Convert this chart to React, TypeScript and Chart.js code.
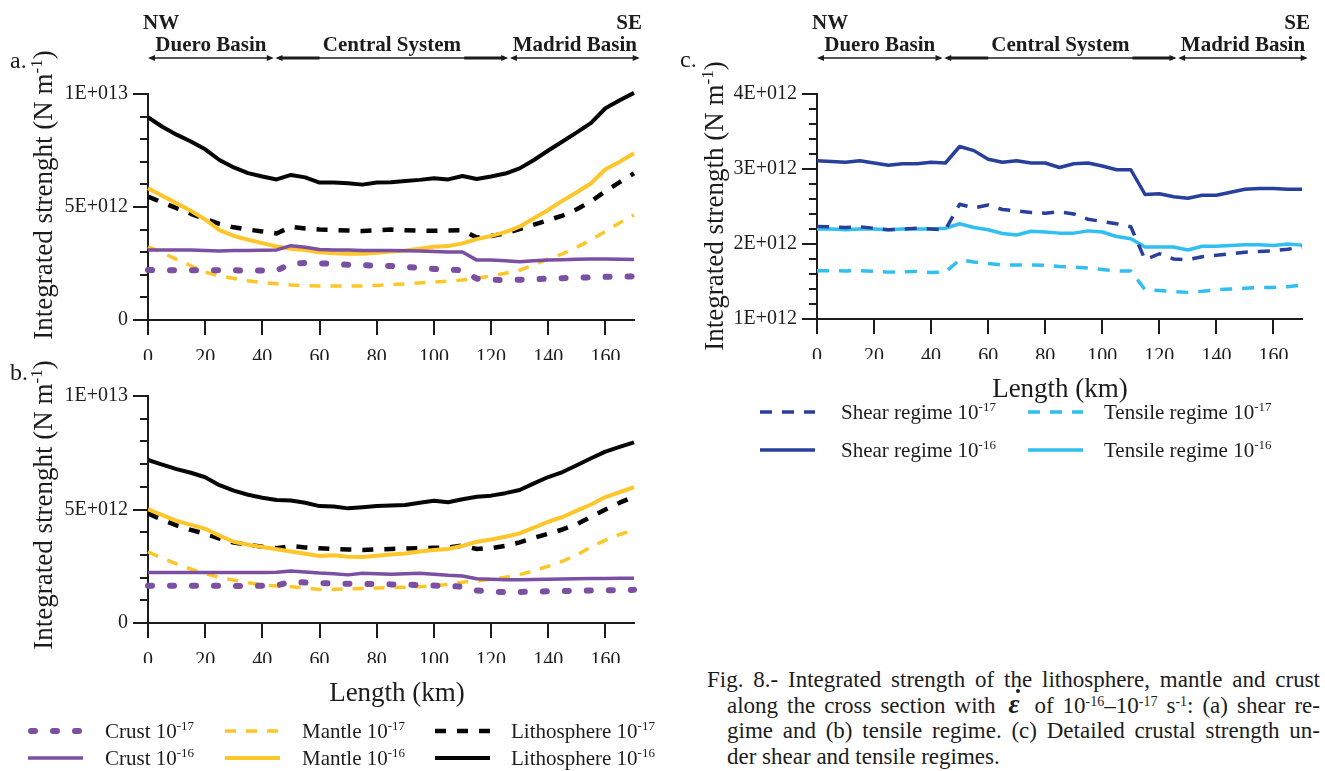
import React, { useEffect, useRef } from "react";
import { Chart, registerables } from "chart.js";

Chart.register(...registerables);

const SERIF = "'Liberation Serif', 'Times New Roman', Times, serif";
const INK = "#1c1c1c";
const PURPLE = "#7b4fa1";
const GOLD = "#ffc629";
const BLACK = "#050505";
const SHEAR = "#283f9b";
const TENSILE = "#30bff0";

Chart.defaults.font.family = SERIF;

// Distance along the NW–SE cross section (km)
const km = [
  0, 5, 10, 15, 20, 25, 30, 35, 40, 45, 50, 55, 60, 65, 70, 75, 80, 85, 90, 95,
  100, 105, 110, 115, 120, 125, 130, 135, 140, 145, 150, 155, 160, 165, 170,
];

// (a) shear regime, integrated strength in units of 1E+012 N m-1
const shearCrust17 = [
  2.21, 2.2, 2.2, 2.2, 2.2, 2.2, 2.2, 2.19, 2.19, 2.18, 2.51, 2.52, 2.51, 2.48, 2.44, 2.42, 2.41, 2.39, 2.35, 2.3,
  2.26, 2.23, 2.2, 1.83, 1.78, 1.77, 1.78, 1.8, 1.83, 1.85, 1.87, 1.89, 1.91, 1.92, 1.93,
];
const shearCrust16 = [
  3.1, 3.1, 3.1, 3.1, 3.08, 3.05, 3.07, 3.08, 3.09, 3.1, 3.29, 3.22, 3.12, 3.1, 3.1, 3.08, 3.08, 3.07, 3.06, 3.05,
  3.03, 3.01, 3.01, 2.65, 2.65, 2.62, 2.58, 2.62, 2.65, 2.67, 2.69, 2.7, 2.7, 2.69, 2.68,
];
const shearMantle17 = [
  3.24, 2.98, 2.68, 2.4, 2.12, 1.95, 1.84, 1.74, 1.66, 1.6, 1.55, 1.52, 1.5, 1.5, 1.5, 1.5, 1.53, 1.57, 1.6, 1.64,
  1.68, 1.72, 1.77, 1.85, 1.95, 2.07, 2.2, 2.45, 2.7, 2.93, 3.22, 3.55, 3.92, 4.3, 4.65,
];
const shearMantle16 = [
  5.83, 5.5, 5.16, 4.83, 4.45, 3.98, 3.72, 3.55, 3.4, 3.25, 3.15, 3.1, 3.0, 2.95, 2.93, 2.93, 2.98, 3.03, 3.08, 3.15,
  3.24, 3.27, 3.39, 3.58, 3.72, 3.89, 4.13, 4.5, 4.87, 5.28, 5.65, 6.05, 6.67, 7.0, 7.38,
];
const shearLitho17 = [
  5.46, 5.2, 4.95, 4.7, 4.47, 4.25, 4.1, 4.0, 3.92, 3.83, 4.12, 4.05, 4.0, 3.98, 3.96, 3.94, 3.97, 4.0, 3.97, 3.95,
  3.95, 3.96, 3.97, 3.65, 3.72, 3.83, 4.02, 4.22, 4.42, 4.62, 4.9, 5.25, 5.7, 6.1, 6.49,
];
const shearLitho16 = [
  8.97, 8.55, 8.2, 7.9, 7.55, 7.08, 6.75, 6.5, 6.35, 6.22, 6.42, 6.31, 6.08, 6.08, 6.05, 5.99, 6.08, 6.1, 6.15, 6.2,
  6.27, 6.22, 6.37, 6.24, 6.35, 6.48, 6.71, 7.08, 7.5, 7.9, 8.3, 8.72, 9.37, 9.72, 10.05,
];

// (b) tensile regime, integrated strength in units of 1E+012 N m-1
const tensileCrust17 = [
  1.64, 1.64, 1.64, 1.64, 1.64, 1.64, 1.63, 1.63, 1.64, 1.65, 1.82, 1.78, 1.76, 1.74, 1.73, 1.72, 1.72, 1.7, 1.69, 1.67,
  1.65, 1.63, 1.6, 1.43, 1.38, 1.36, 1.37, 1.38, 1.4, 1.41, 1.42, 1.43, 1.44, 1.45, 1.46,
];
const tensileCrust16 = [
  2.22, 2.22, 2.22, 2.22, 2.22, 2.22, 2.23, 2.23, 2.23, 2.24, 2.29, 2.25, 2.2, 2.17, 2.12, 2.19, 2.17, 2.15, 2.17, 2.19,
  2.15, 2.1, 2.07, 1.95, 1.93, 1.91, 1.9, 1.92, 1.93, 1.94, 1.95, 1.96, 1.96, 1.97, 1.97,
];
const tensileMantle17 = [
  3.14, 2.85, 2.6, 2.38, 2.17, 2.02, 1.89, 1.77, 1.68, 1.63, 1.6, 1.54, 1.48, 1.49, 1.5, 1.52, 1.54, 1.56, 1.58, 1.6,
  1.64, 1.7, 1.8, 1.86, 1.92, 2.02, 2.13, 2.3, 2.5, 2.72, 3.0, 3.36, 3.65, 3.9, 4.1,
];
const tensileMantle16 = [
  5.01, 4.75, 4.5, 4.32, 4.15, 3.85, 3.58, 3.45, 3.35, 3.25, 3.15, 3.05, 2.95, 2.98, 2.92, 2.91, 2.96, 3.02, 3.06, 3.15,
  3.22, 3.26, 3.4, 3.58, 3.68, 3.8, 3.95, 4.2, 4.46, 4.67, 4.95, 5.22, 5.55, 5.77, 5.98,
];
const tensileLitho17 = [
  4.83, 4.55, 4.3, 4.1, 3.93, 3.72, 3.54, 3.45, 3.36, 3.29, 3.39, 3.33, 3.29, 3.26, 3.24, 3.22, 3.24, 3.26, 3.28, 3.3,
  3.31, 3.33, 3.41, 3.26, 3.3, 3.4, 3.55, 3.75, 3.93, 4.12, 4.36, 4.68, 5.0, 5.3, 5.56,
];
const tensileLitho16 = [
  7.18, 6.98, 6.78, 6.62, 6.42, 6.07, 5.83, 5.65, 5.52, 5.42, 5.4, 5.3, 5.15, 5.13, 5.05, 5.1, 5.15, 5.18, 5.2, 5.3,
  5.39, 5.32, 5.45, 5.56, 5.61, 5.72, 5.86, 6.15, 6.43, 6.65, 6.95, 7.26, 7.55, 7.76, 7.96,
];

// (c) crustal strength, units of 1E+012 N m-1
const crustShear17 = [
  2.235, 2.23, 2.22, 2.23, 2.21, 2.19, 2.2, 2.21, 2.2, 2.19, 2.53, 2.48, 2.52, 2.46, 2.44, 2.42, 2.41, 2.43, 2.4, 2.33,
  2.3, 2.27, 2.23, 1.79, 1.87, 1.8, 1.79, 1.83, 1.85, 1.87, 1.89, 1.9, 1.91, 1.93, 1.96,
];
const crustShear16 = [
  3.11, 3.1, 3.09, 3.11, 3.08, 3.05, 3.07, 3.07, 3.09, 3.08, 3.3, 3.245, 3.13, 3.09, 3.11, 3.08, 3.08, 3.02, 3.07, 3.08,
  3.04, 2.99, 2.99, 2.66, 2.67, 2.63, 2.61, 2.65, 2.65, 2.69, 2.73, 2.74, 2.74, 2.73, 2.73,
];
const crustTensile17 = [
  1.645, 1.645, 1.64, 1.645, 1.635, 1.625, 1.63, 1.635, 1.62, 1.625, 1.79, 1.76, 1.74, 1.72, 1.72, 1.72, 1.715, 1.7, 1.69, 1.68,
  1.66, 1.64, 1.64, 1.39, 1.38, 1.365, 1.355, 1.37, 1.39, 1.4, 1.41, 1.42, 1.42, 1.43, 1.455,
];
const crustTensile16 = [
  2.2, 2.2, 2.19, 2.2, 2.2, 2.19, 2.2, 2.2, 2.2, 2.21, 2.27, 2.22, 2.19, 2.14, 2.12, 2.17, 2.16, 2.145, 2.145, 2.175,
  2.16, 2.1, 2.07, 1.96, 1.96, 1.96, 1.92, 1.97, 1.97, 1.98, 1.99, 1.99, 1.98, 2.0, 1.985,
];

// Geological domains along the section (km)
const regionNames = ["Duero Basin", "Central System", "Madrid Basin"];
const regionStart = [0, 44.6, 126.6];
const regionEnd = [44, 126, 172];

const xMin = 0;
const xMax = 170;
const xStep = 20;

type LineStyle = { color: string; width: number; dash: number[]; cap: CanvasLineCap };

const styleCrust17: LineStyle = { color: PURPLE, width: 6, dash: [4, 18], cap: "round" };
const styleCrust16: LineStyle = { color: PURPLE, width: 3.5, dash: [], cap: "butt" };
const styleMantle17: LineStyle = { color: GOLD, width: 3.5, dash: [11, 10], cap: "butt" };
const styleMantle16: LineStyle = { color: GOLD, width: 4, dash: [], cap: "butt" };
const styleLitho17: LineStyle = { color: BLACK, width: 4.5, dash: [11, 11], cap: "butt" };
const styleLitho16: LineStyle = { color: BLACK, width: 4, dash: [], cap: "butt" };
const styleShear17: LineStyle = { color: SHEAR, width: 3.5, dash: [12, 10], cap: "butt" };
const styleShear16: LineStyle = { color: SHEAR, width: 3.5, dash: [], cap: "butt" };
const styleTensile17: LineStyle = { color: TENSILE, width: 3.5, dash: [12, 10], cap: "butt" };
const styleTensile16: LineStyle = { color: TENSILE, width: 3.5, dash: [], cap: "butt" };

type RichPart = { t: string; sup?: boolean };

function drawRich(
  ctx: CanvasRenderingContext2D,
  parts: RichPart[],
  x: number,
  y: number,
  size: number,
  align: "left" | "center" | "right",
  weight = "normal",
  supSize = Math.round(size * 0.62)
) {
  const main = `${weight} ${size}px ${SERIF}`;
  const small = `${weight} ${supSize}px ${SERIF}`;
  const widths = parts.map((p) => {
    ctx.font = p.sup ? small : main;
    return ctx.measureText(p.t).width;
  });
  const total = widths.reduce((a, b) => a + b, 0);
  let cx = align === "left" ? x : align === "center" ? x - total / 2 : x - total;
  ctx.textAlign = "left";
  ctx.textBaseline = "alphabetic";
  parts.forEach((p, i) => {
    ctx.font = p.sup ? small : main;
    ctx.fillText(p.t, cx, p.sup ? y - size * 0.38 : y);
    cx += widths[i];
  });
}

function strokeSample(ctx: CanvasRenderingContext2D, st: LineStyle, x: number, y: number, len: number) {
  ctx.save();
  ctx.strokeStyle = st.color;
  ctx.lineWidth = st.width;
  ctx.lineCap = st.cap;
  ctx.setLineDash(st.dash);
  const inset = st.cap === "round" ? st.width / 2 : 0;
  ctx.beginPath();
  ctx.moveTo(x + inset, y);
  ctx.lineTo(x + len - inset, y);
  ctx.stroke();
  ctx.restore();
}

function drawArrow(ctx: CanvasRenderingContext2D, a: number, b: number, y: number, heavyEnds: number) {
  ctx.save();
  ctx.strokeStyle = INK;
  ctx.fillStyle = INK;
  ctx.lineWidth = 1.6;
  ctx.beginPath();
  ctx.moveTo(a + 2, y);
  ctx.lineTo(b - 2, y);
  ctx.stroke();
  if (heavyEnds > 0) {
    ctx.lineWidth = 3;
    ctx.beginPath();
    ctx.moveTo(a + 4, y);
    ctx.lineTo(a + heavyEnds, y);
    ctx.moveTo(b - heavyEnds, y);
    ctx.lineTo(b - 4, y);
    ctx.stroke();
  }
  ctx.beginPath();
  ctx.moveTo(a, y);
  ctx.lineTo(a + 7, y - 3);
  ctx.lineTo(a + 7, y + 3);
  ctx.closePath();
  ctx.moveTo(b, y);
  ctx.lineTo(b - 7, y - 3);
  ctx.lineTo(b - 7, y + 3);
  ctx.closePath();
  ctx.fill();
  ctx.restore();
}

type LegendItem = { style: LineStyle; base: string; exp: string; sx: number; tx: number };
type LegendRow = { y: number; items: LegendItem[] };

interface DecorOptions {
  panel: { text: string; x: number; y: number };
  yTitle: { parts: RichPart[]; x: number; y: number };
  xTitle?: { text: string; x: number; y: number };
  header?: { nwY: number; nameY: number; arrowY: number };
  legend?: { rows: LegendRow[]; sampleLen: number };
}

function makeDecor(o: DecorOptions) {
  return {
    id: "decor",
    afterDraw(chart: any) {
      const ctx: CanvasRenderingContext2D = chart.ctx;
      const area = chart.chartArea;
      const xs = chart.scales.x;
      const ys = chart.scales.y;
      ctx.save();

      // tick marks: long for labelled values, short for minor steps
      ctx.strokeStyle = INK;
      ctx.lineWidth = 2;
      ctx.setLineDash([]);
      ctx.beginPath();
      xs.ticks.forEach((t: any) => {
        const px = Math.round(xs.getPixelForValue(t.value));
        ctx.moveTo(px, area.bottom);
        ctx.lineTo(px, area.bottom + 15);
      });
      ys.ticks.forEach((t: any) => {
        const py = Math.round(ys.getPixelForValue(t.value));
        const len = t.label ? 15 : 8;
        ctx.moveTo(area.left - len, py);
        ctx.lineTo(area.left, py);
      });
      ctx.stroke();

      ctx.fillStyle = INK;

      // panel letter
      ctx.font = `24px ${SERIF}`;
      ctx.textAlign = "left";
      ctx.textBaseline = "alphabetic";
      ctx.fillText(o.panel.text, o.panel.x, o.panel.y);

      // vertical axis title
      ctx.save();
      ctx.translate(o.yTitle.x, o.yTitle.y);
      ctx.rotate(-Math.PI / 2);
      drawRich(ctx, o.yTitle.parts, 0, 0, 27, "center", "normal", 17);
      ctx.restore();

      if (o.xTitle) {
        ctx.font = `27px ${SERIF}`;
        ctx.textAlign = "center";
        ctx.fillText(o.xTitle.text, o.xTitle.x, o.xTitle.y);
      }

      if (o.header) {
        const h = o.header;
        ctx.font = `bold 21px ${SERIF}`;
        ctx.textAlign = "left";
        ctx.fillText("NW", xs.getPixelForValue(xMin) - 5, h.nwY);
        ctx.textAlign = "right";
        ctx.fillText("SE", xs.getPixelForValue(xMax) + 8, h.nwY);
        regionNames.forEach((name, i) => {
          const a = xs.getPixelForValue(regionStart[i]);
          const b = xs.getPixelForValue(regionEnd[i]);
          ctx.font = `bold 21px ${SERIF}`;
          ctx.textAlign = "center";
          ctx.fillText(name, (a + b) / 2, h.nameY);
          drawArrow(ctx, a, b, h.arrowY, i === 1 ? 44 : 0);
        });
      }

      if (o.legend) {
        const lg = o.legend;
        lg.rows.forEach((row) => {
          row.items.forEach((it) => {
            strokeSample(ctx, it.style, it.sx, row.y, lg.sampleLen);
            ctx.fillStyle = INK;
            drawRich(ctx, [{ t: it.base + " 10" }, { t: it.exp, sup: true }], it.tx, row.y + 7, 21, "left", "normal", 13);
          });
        });
      }

      ctx.restore();
    },
  };
}

function series(label: string, values: number[], st: LineStyle) {
  return {
    label,
    data: values.map((v, i) => ({ x: km[i], y: v })),
    borderColor: st.color,
    backgroundColor: st.color,
    borderWidth: st.width,
    borderDash: st.dash,
    borderCapStyle: st.cap,
    borderJoinStyle: "round" as CanvasLineJoin,
    pointRadius: 0,
    tension: 0,
    fill: false,
    clip: false as const,
  };
}

const Y_AXIS_WIDTH = 100;

function xScale() {
  return {
    type: "linear" as const,
    min: xMin,
    max: xMax,
    afterFit: (s: any) => {
      s.height = 40;
    },
    ticks: {
      stepSize: xStep,
      includeBounds: false,
      autoSkip: false,
      maxRotation: 0,
      padding: 11,
      color: INK,
      font: { family: SERIF, size: 20 },
    },
    grid: { display: true, drawOnChartArea: false, drawTicks: true, tickLength: 15, color: "rgba(0,0,0,0)" },
    border: { display: true, color: INK, width: 2 },
  };
}

function yScale(min: number, max: number, step: number, label: (v: number) => string) {
  return {
    type: "linear" as const,
    min,
    max,
    afterFit: (s: any) => {
      s.width = Y_AXIS_WIDTH;
    },
    ticks: {
      stepSize: step,
      autoSkip: false,
      padding: 5,
      color: INK,
      font: { family: SERIF, size: 20 },
      callback: (v: any) => label(Number(v)),
    },
    grid: { display: true, drawOnChartArea: false, drawTicks: true, tickLength: 15, color: "rgba(0,0,0,0)" },
    border: { display: true, color: INK, width: 2 },
  };
}

// 0, 5E+012 and 1E+013 labelled, minor steps of 1E+012
const strengthLabel = (v: number) => {
  if (Math.abs(v) < 1e-6) return "0";
  if (Math.abs(v - 5) < 1e-6) return "5E+012";
  if (Math.abs(v - 10) < 1e-6) return "1E+013";
  return "";
};

// whole multiples of 1E+012 labelled, minor steps of 2E+011
const crustLabel = (v: number) => {
  const r = Math.round(v);
  return Math.abs(v - r) < 1e-6 ? `${r}E+012` : "";
};

const strenghtTitle: RichPart[] = [{ t: "Integrated strenght (N m" }, { t: "-1", sup: true }, { t: ")" }];
const strengthTitle: RichPart[] = [{ t: "Integrated strength (N m" }, { t: "-1", sup: true }, { t: ")" }];

function layerDatasets(c17: number[], c16: number[], m17: number[], m16: number[], l17: number[], l16: number[]) {
  return [
    series("Crust 10-17", c17, styleCrust17),
    series("Crust 10-16", c16, styleCrust16),
    series("Mantle 10-17", m17, styleMantle17),
    series("Mantle 10-16", m16, styleMantle16),
    series("Lithosphere 10-17", l17, styleLitho17),
    series("Lithosphere 10-16", l16, styleLitho16),
  ];
}

function baseOptions(padding: any) {
  return {
    animation: false as const,
    responsive: false,
    events: [] as any[],
    layout: { padding },
    plugins: { legend: { display: false }, tooltip: { enabled: false } },
  };
}

function configA() {
  return {
    type: "line" as const,
    data: {
      datasets: layerDatasets(shearCrust17, shearCrust16, shearMantle17, shearMantle16, shearLitho17, shearLitho16),
    },
    options: {
      ...baseOptions({ left: 148 - Y_AXIS_WIDTH, right: 26, top: 94, bottom: 20 }),
      scales: { x: xScale(), y: yScale(0, 10, 1, strengthLabel) },
    },
    plugins: [
      makeDecor({
        panel: { text: "a.", x: 10, y: 68 },
        yTitle: { parts: strenghtTitle, x: 52, y: 195 },
        header: { nwY: 29, nameY: 51, arrowY: 58 },
      }),
    ],
  };
}

function configB() {
  const cols = [
    { sx: 28, tx: 105 },
    { sx: 225, tx: 302 },
    { sx: 435, tx: 511 },
  ];
  const names = ["Crust", "Mantle", "Lithosphere"];
  const row17 = [styleCrust17, styleMantle17, styleLitho17];
  const row16 = [styleCrust16, styleMantle16, styleLitho16];
  return {
    type: "line" as const,
    data: {
      datasets: layerDatasets(
        tensileCrust17,
        tensileCrust16,
        tensileMantle17,
        tensileMantle16,
        tensileLitho17,
        tensileLitho16
      ),
    },
    options: {
      ...baseOptions({ left: 148 - Y_AXIS_WIDTH, right: 26, top: 36, bottom: 108 }),
      scales: { x: xScale(), y: yScale(0, 10, 1, strengthLabel) },
    },
    plugins: [
      makeDecor({
        panel: { text: "b.", x: 10, y: 20 },
        yTitle: { parts: strenghtTitle, x: 52, y: 145 },
        xTitle: { text: "Length (km)", x: 397, y: 341 },
        legend: {
          sampleLen: 55,
          rows: [
            { y: 371, items: cols.map((c, i) => ({ ...c, style: row17[i], base: names[i], exp: "-17" })) },
            { y: 398, items: cols.map((c, i) => ({ ...c, style: row16[i], base: names[i], exp: "-16" })) },
          ],
        },
      }),
    ],
  };
}

function configC() {
  return {
    type: "line" as const,
    data: {
      datasets: [
        series("Shear regime 10-17", crustShear17, styleShear17),
        series("Tensile regime 10-17", crustTensile17, styleTensile17),
        series("Shear regime 10-16", crustShear16, styleShear16),
        series("Tensile regime 10-16", crustTensile16, styleTensile16),
      ],
    },
    options: {
      ...baseOptions({ left: 157 - Y_AXIS_WIDTH, right: 23, top: 94, bottom: 281 }),
      scales: { x: xScale(), y: yScale(1, 4, 0.2, crustLabel) },
    },
    plugins: [
      makeDecor({
        panel: { text: "c.", x: 20, y: 67 },
        yTitle: { parts: strengthTitle, x: 63, y: 206 },
        xTitle: { text: "Length (km)", x: 400, y: 397 },
        header: { nwY: 29, nameY: 51, arrowY: 58 },
        legend: {
          sampleLen: 55,
          rows: [
            {
              y: 412,
              items: [
                { style: styleShear17, base: "Shear regime", exp: "-17", sx: 100, tx: 181 },
                { style: styleTensile17, base: "Tensile regime", exp: "-17", sx: 368, tx: 444 },
              ],
            },
            {
              y: 450,
              items: [
                { style: styleShear16, base: "Shear regime", exp: "-16", sx: 100, tx: 181 },
                { style: styleTensile16, base: "Tensile regime", exp: "-16", sx: 368, tx: 444 },
              ],
            },
          ],
        },
      }),
    ],
  };
}

function PanelCanvas(props: { left: number; top: number; width: number; height: number; make: () => any }) {
  const ref = useRef<HTMLCanvasElement | null>(null);
  useEffect(() => {
    if (!ref.current) return;
    const chart = new Chart(ref.current, props.make());
    return () => chart.destroy();
  }, []);
  return (
    <canvas
      ref={ref}
      width={props.width}
      height={props.height}
      style={{ position: "absolute", left: props.left, top: props.top, width: props.width, height: props.height }}
    />
  );
}

const sup: React.CSSProperties = { fontSize: 14, lineHeight: 0, verticalAlign: "0.5em" };
const justified: React.CSSProperties = { textAlign: "justify", textAlignLast: "justify" };

// strain-rate symbol: bold italic epsilon with a dot above
function StrainRate() {
  return (
    <span
      style={{
        position: "relative",
        display: "inline-block",
        fontStyle: "italic",
        fontWeight: "bold",
        fontSize: 27,
        lineHeight: "20px",
        margin: "0 6px 0 4px",
      }}
    >
      ε
      <span
        style={{
          position: "absolute",
          left: 8,
          top: -5,
          width: 4,
          height: 4,
          borderRadius: 2,
          background: INK,
        }}
      />
    </span>
  );
}

export default function App() {
  return (
    <div
      style={{
        position: "fixed",
        left: 0,
        top: 0,
        width: 1325,
        height: 771,
        background: "#ffffff",
        overflow: "hidden",
        fontFamily: SERIF,
        color: INK,
      }}
    >
      <PanelCanvas left={0} top={0} width={660} height={380} make={configA} />
      <PanelCanvas left={0} top={360} width={660} height={411} make={configB} />
      <PanelCanvas left={660} top={0} width={665} height={640} make={configC} />
      <div
        style={{
          position: "absolute",
          left: 707,
          top: 667,
          width: 613,
          fontSize: 23,
          lineHeight: "25.5px",
        }}
      >
        <div style={justified}>Fig. 8.- Integrated strength of the lithosphere, mantle and crust</div>
        <div style={{ ...justified, marginLeft: 20 }}>
          along the cross section with <StrainRate /> of 10<span style={sup}>-16</span>–10
          <span style={sup}>-17</span> s<span style={sup}>-1</span>: (a) shear re-
        </div>
        <div style={{ ...justified, marginLeft: 20 }}>gime and (b) tensile regime. (c) Detailed crustal strength un-</div>
        <div style={{ marginLeft: 20 }}>der shear and tensile regimes.</div>
      </div>
    </div>
  );
}
